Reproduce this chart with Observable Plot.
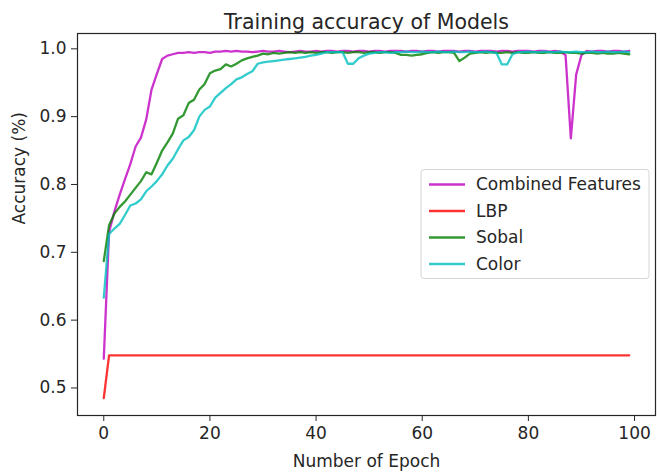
<!DOCTYPE html>
<html><head><meta charset="utf-8">
<script src="https://cdn.jsdelivr.net/npm/d3@7"></script>
<script src="https://cdn.jsdelivr.net/npm/@observablehq/plot@0.6"></script>
<style>body{margin:0;background:#fff}#chart{width:660px;height:472px}</style>
</head><body><div id="chart"></div>
<script>
const seriesNames = ["Combined Features", "LBP", "Sobal", "Color"];
const seriesColors = ["#bf00bf", "#ff0000", "#008000", "#00bfbf"];
const xTicks = [0, 20, 40, 60, 80, 100];
const yTicks = [0.5, 0.6, 0.7, 0.8, 0.9, 1.0];
const titleText = "Training accuracy of Models";
const xLabel = "Number of Epoch";
const yLabel = "Accuracy (%)";

const combined = [0.543,0.730,0.760,0.785,0.808,0.830,0.856,0.869,0.896,0.940,
0.963,0.985,0.990,0.992,0.994,0.994,0.995,0.994,0.995,0.995,
0.994,0.996,0.996,0.997,0.996,0.997,0.996,0.996,0.995,0.996,
0.997,0.996,0.996,0.997,0.996,0.995,0.996,0.997,0.996,0.996,
0.997,0.996,0.997,0.997,0.996,0.997,0.997,0.996,0.997,0.997,
0.996,0.997,0.997,0.996,0.997,0.997,0.997,0.996,0.997,0.997,
0.996,0.997,0.997,0.996,0.997,0.997,0.997,0.996,0.997,0.997,
0.996,0.997,0.997,0.997,0.996,0.997,0.997,0.996,0.997,0.997,
0.997,0.996,0.997,0.997,0.996,0.997,0.996,0.991,0.868,0.962,
0.991,0.997,0.996,0.997,0.997,0.996,0.997,0.997,0.996,0.997];

const lbp = [0.485,0.548,0.548,0.548,0.548,0.548,0.548,0.548,0.548,0.548,
0.548,0.548,0.548,0.548,0.548,0.548,0.548,0.548,0.548,0.548,
0.548,0.548,0.548,0.548,0.548,0.548,0.548,0.548,0.548,0.548,
0.548,0.548,0.548,0.548,0.548,0.548,0.548,0.548,0.548,0.548,
0.548,0.548,0.548,0.548,0.548,0.548,0.548,0.548,0.548,0.548,
0.548,0.548,0.548,0.548,0.548,0.548,0.548,0.548,0.548,0.548,
0.548,0.548,0.548,0.548,0.548,0.548,0.548,0.548,0.548,0.548,
0.548,0.548,0.548,0.548,0.548,0.548,0.548,0.548,0.548,0.548,
0.548,0.548,0.548,0.548,0.548,0.548,0.548,0.548,0.548,0.548,
0.548,0.548,0.548,0.548,0.548,0.548,0.548,0.548,0.548,0.548];

const sobal = [0.687,0.740,0.757,0.767,0.775,0.785,0.795,0.805,0.818,0.815,
0.832,0.850,0.862,0.875,0.897,0.902,0.920,0.925,0.940,0.948,
0.964,0.968,0.970,0.977,0.974,0.978,0.983,0.986,0.988,0.990,
0.993,0.992,0.994,0.993,0.994,0.995,0.994,0.995,0.994,0.995,
0.994,0.995,0.995,0.994,0.995,0.995,0.994,0.995,0.995,0.994,
0.995,0.995,0.994,0.995,0.995,0.994,0.991,0.991,0.990,0.991,
0.992,0.994,0.995,0.994,0.995,0.995,0.994,0.982,0.987,0.993,
0.994,0.995,0.994,0.995,0.994,0.994,0.995,0.994,0.995,0.994,
0.994,0.995,0.994,0.994,0.995,0.994,0.994,0.995,0.994,0.994,
0.993,0.994,0.994,0.993,0.994,0.993,0.993,0.994,0.993,0.992];

const color = [0.633,0.727,0.735,0.742,0.755,0.769,0.772,0.778,0.790,0.797,
0.805,0.815,0.828,0.838,0.852,0.865,0.870,0.880,0.900,0.910,
0.915,0.928,0.935,0.942,0.948,0.955,0.958,0.963,0.967,0.978,
0.980,0.981,0.982,0.983,0.984,0.985,0.986,0.987,0.988,0.990,
0.991,0.993,0.995,0.995,0.995,0.995,0.978,0.978,0.986,0.990,
0.993,0.994,0.995,0.995,0.994,0.995,0.995,0.996,0.995,0.995,
0.996,0.995,0.995,0.996,0.995,0.995,0.996,0.995,0.995,0.996,
0.995,0.995,0.996,0.995,0.994,0.977,0.977,0.992,0.995,0.995,
0.996,0.995,0.995,0.996,0.995,0.995,0.996,0.995,0.995,0.996,
0.995,0.995,0.996,0.995,0.995,0.996,0.995,0.995,0.996,0.995];

const seriesValues = [combined, lbp, sobal, color];
const rows = [];
seriesValues.forEach((vals, i) => vals.forEach((v, e) => rows.push({epoch: e, acc: v, series: seriesNames[i]})));

const allVals = rows.map(d => d.acc);
const yMin = d3.min(allVals), yMax = d3.max(allVals);
const yPad = (yMax - yMin) * 0.05;
const xMax = combined.length - 1;
const xPad = xMax * 0.05;

const W = 660, H = 472, mL = 77, mR = 5, mT = 33, mB = 57;
const textColor = "#262626";
const fs = 17;

const plot = Plot.plot({
  width: W, height: H,
  marginLeft: mL, marginRight: mR, marginTop: mT, marginBottom: mB,
  style: {fontFamily: "DejaVu Sans", fontSize: fs + "px", color: textColor, background: "#fff", overflow: "visible"},
  x: {domain: [-xPad, xMax + xPad]},
  y: {domain: [yMin - yPad, yMax + yPad]},
  color: {domain: seriesNames, range: seriesColors},
  marks: [
    Plot.lineY(rows, {x: "epoch", y: "acc", stroke: "series", z: "series", strokeWidth: 2.3, strokeOpacity: 0.8}),
    Plot.frame({stroke: textColor, strokeWidth: 1.2}),
    Plot.axisX({ticks: xTicks, tickSize: 6, tickPadding: 5, label: null, fontSize: fs}),
    Plot.axisY({ticks: yTicks, tickSize: 6, tickPadding: 5, tickFormat: d3.format(".1f"), label: null, fontSize: fs}),
    Plot.text([titleText], {frameAnchor: "top", dy: -19, fontSize: 20.5, fill: textColor}),
    Plot.text([xLabel], {frameAnchor: "bottom", dy: 51, fontSize: fs, fill: textColor}),
    Plot.text([yLabel], {frameAnchor: "left", dx: -58, rotate: -90, fontSize: fs, fill: textColor})
  ]
});
document.getElementById("chart").appendChild(plot);

// legend (center right inside the frame)
const svg = d3.select(plot);
const lg = svg.append("g").attr("font-family", "DejaVu Sans").attr("font-size", fs).attr("text-anchor", "start");
const frameRight = W - mR;
const boxW = 228, boxH = 109, rowH = 26.5;
const frameMid = (mT + (H - mB)) / 2;
const boxX = frameRight - 6 - boxW, boxY = frameMid - boxH / 2;
lg.append("rect").attr("x", boxX).attr("y", boxY).attr("width", boxW).attr("height", boxH)
  .attr("rx", 3).attr("fill", "#fff").attr("fill-opacity", 0.8).attr("stroke", "#d6d6d6");
seriesNames.forEach((name, i) => {
  const cy = boxY + 15 + i * rowH;
  lg.append("line").attr("x1", boxX + 8).attr("x2", boxX + 44).attr("y1", cy).attr("y2", cy)
    .attr("stroke", seriesColors[i]).attr("stroke-width", 2.3).attr("stroke-opacity", 0.8);
  lg.append("text").attr("x", boxX + 55).attr("y", cy).attr("dy", "0.35em").attr("text-anchor", "start")
    .attr("fill", textColor).text(name);
});
</script>
</body></html>
